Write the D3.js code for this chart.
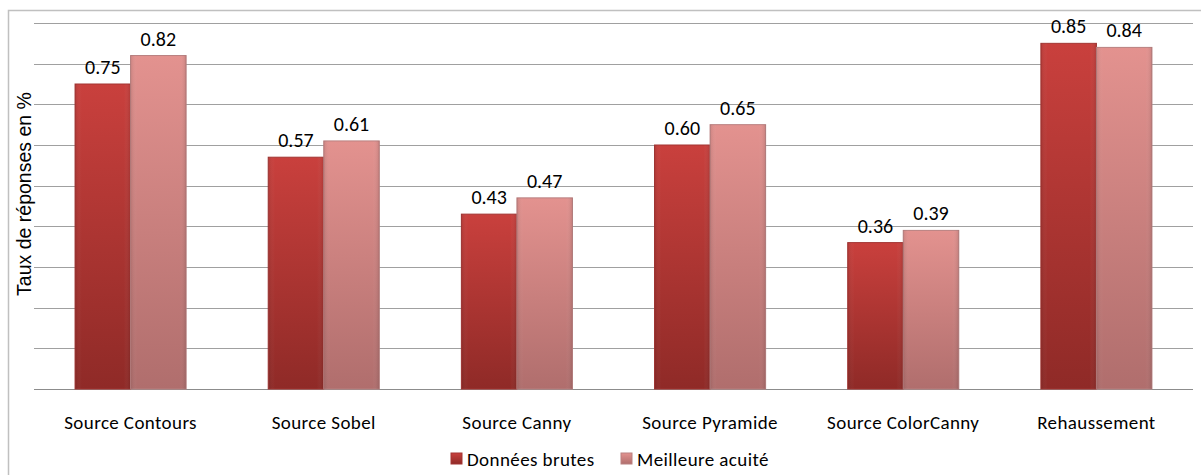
<!DOCTYPE html>
<html><head><meta charset="utf-8">
<script src="https://cdn.jsdelivr.net/npm/d3@7/dist/d3.min.js"></script>
<style>body{margin:0;background:#fff}svg{display:block}</style>
</head><body>
<script>
const categories = ["Source Contours","Source Sobel","Source Canny","Source Pyramide","Source ColorCanny","Rehaussement"];
const seriesNames = ["Données brutes","Meilleure acuité"];
const brutes = [0.75,0.57,0.43,0.60,0.36,0.85];
const acuite = [0.82,0.61,0.47,0.65,0.39,0.84];
const gridTicks = [0,0.1,0.2,0.3,0.4,0.5,0.6,0.7,0.8,0.9];
const yTitle = "Taux de réponses en %";

const W=1201,H=475;
const svg=d3.select("body").append("svg").attr("width",W).attr("height",H);
const defs=svg.append("defs");
const grads=[["g0","#c9403d","#8f2a27"],["g1","#e3928f","#b06e6d"]];
grads.forEach(([id,a,b])=>{
  const g=defs.append("linearGradient").attr("id",id).attr("x1",0).attr("y1",0).attr("x2",0).attr("y2",1);
  g.append("stop").attr("offset","0%").attr("stop-color",a);
  g.append("stop").attr("offset","100%").attr("stop-color",b);
});
const hg=defs.append("linearGradient").attr("id","hl").attr("x1",0).attr("y1",0).attr("x2",1).attr("y2",0);
hg.append("stop").attr("offset","0%").attr("stop-color","#000").attr("stop-opacity",0.10);
hg.append("stop").attr("offset","12%").attr("stop-color","#fff").attr("stop-opacity",0.0);
hg.append("stop").attr("offset","88%").attr("stop-color","#fff").attr("stop-opacity",0.0);
hg.append("stop").attr("offset","100%").attr("stop-color","#000").attr("stop-opacity",0.12);

svg.append("rect").attr("x",8.5).attr("y",10.5).attr("width",1200).attr("height",470)
  .attr("fill","none").attr("stroke","#c0c0c0").attr("stroke-width",1.5);

const L=34,R=1193,T=23,B=389;
const x=d3.scaleBand().domain(categories).range([L,R]).paddingInner(0.425).paddingOuter(0.2125);
const xs=d3.scaleBand().domain(seriesNames).range([0,x.bandwidth()]);
const y=d3.scaleLinear().domain([0,0.9]).range([B,T]);

svg.append("g").selectAll("line").data(gridTicks).join("line")
  .attr("x1",L).attr("x2",R).attr("y1",d=>Math.round(y(d))+0.5).attr("y2",d=>Math.round(y(d))+0.5)
  .attr("stroke",d=>d===0?"#8c8c8c":"#a0a0a0").attr("stroke-width",1);

const data=[brutes,acuite];
const font="Carlito, Calibri, Lato, 'Open Sans', sans-serif";
data.forEach((vals,si)=>{
  const g=svg.append("g");
  const bars=g.selectAll("g").data(vals.map((v,i)=>({v,c:categories[i]}))).join("g");
  bars.append("rect")
    .attr("x",d=>x(d.c)+xs(seriesNames[si])).attr("y",d=>y(d.v))
    .attr("width",xs.bandwidth()).attr("height",d=>B-y(d.v))
    .attr("fill",`url(#g${si})`).attr("stroke",si?"#b98080":"#a33533").attr("stroke-width",1);
  bars.append("rect")
    .attr("x",d=>x(d.c)+xs(seriesNames[si])).attr("y",d=>y(d.v))
    .attr("width",xs.bandwidth()).attr("height",d=>B-y(d.v))
    .attr("fill","url(#hl)");
  bars.append("text")
    .attr("x",d=>x(d.c)+xs(seriesNames[si])+xs.bandwidth()/2).attr("y",d=>y(d.v)-10)
    .attr("text-anchor","middle").attr("font-family",font).attr("font-size",20).attr("fill","#000")
    .text(d=>d3.format(".2f")(d.v));
});

svg.append("g").selectAll("text").data(categories).join("text")
  .attr("x",d=>x(d)+x.bandwidth()/2).attr("y",429)
  .attr("text-anchor","middle").attr("font-family",font).attr("font-size",19)
  .attr("letter-spacing",0.4).attr("fill","#000")
  .text(d=>d);

svg.append("text").attr("transform","translate(31,194) rotate(-90)")
  .attr("text-anchor","middle").attr("font-family","'Liberation Sans', Arial, sans-serif")
  .attr("font-size",19.5).attr("fill","#000").text(yTitle);

const legX=[451,621];
seriesNames.forEach((n,i)=>{
  svg.append("rect").attr("x",legX[i]).attr("y",453).attr("width",11).attr("height",11)
    .attr("fill",`url(#g${i})`).attr("stroke",i?"#b98080":"#a33533");
  svg.append("text").attr("x",legX[i]+16).attr("y",466).attr("font-family",font)
    .attr("font-size",19).attr("letter-spacing",0.4).attr("fill","#000").text(n);
});
</script>
</body></html>
